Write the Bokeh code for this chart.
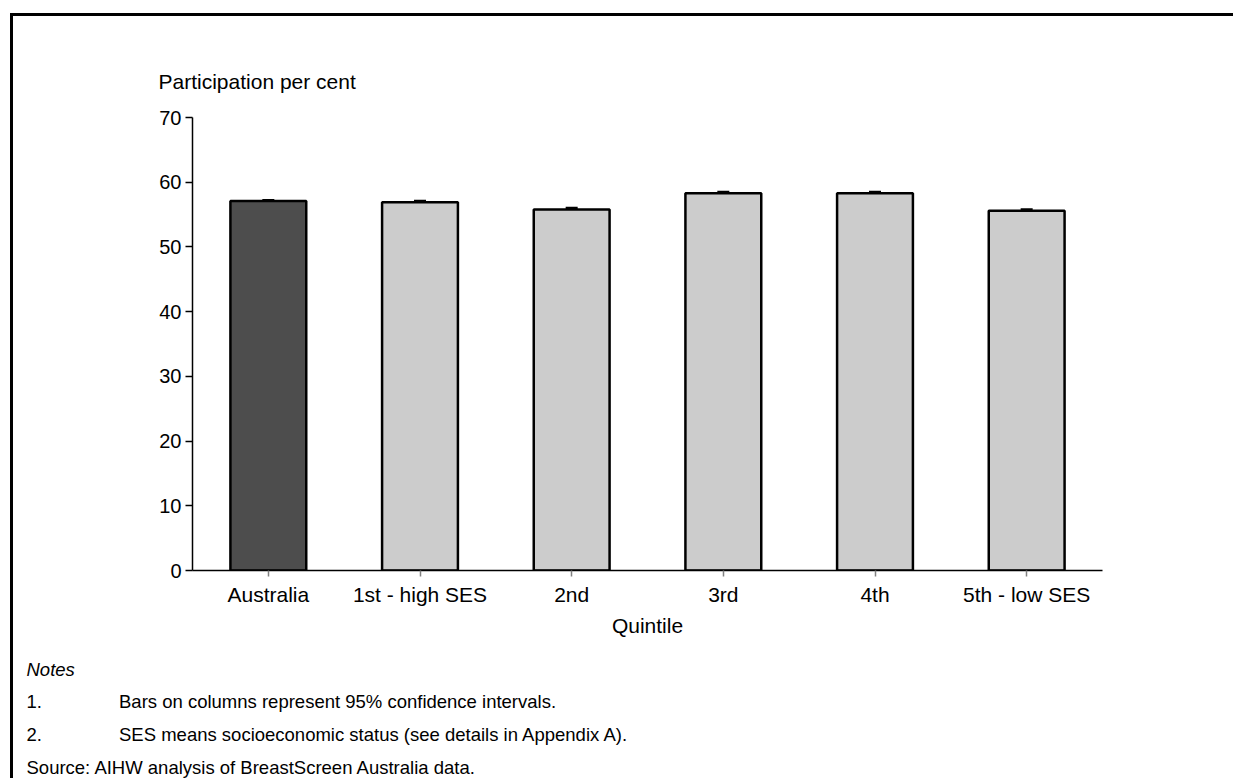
from bokeh.plotting import figure
from bokeh.models import (ColumnDataSource, Whisker, Title, TeeHead,
                          FactorRange, Range1d, FixedTicker)
from bokeh.embed import file_html
from bokeh.resources import INLINE

# ---- data ----
categories = ["Australia", "1st - high SES", "2nd", "3rd", "4th", "5th - low SES"]
participation = [57.1, 56.9, 55.8, 58.3, 58.3, 55.6]
ci_lower = [57.0, 56.7, 55.6, 58.1, 58.1, 55.4]
ci_upper = [57.2, 57.1, 56.0, 58.5, 58.5, 55.8]
bar_colors = ["#4d4d4d", "#cccccc", "#cccccc", "#cccccc", "#cccccc", "#cccccc"]
y_ticks = [0, 10, 20, 30, 40, 50, 60, 70]

y_title = "Participation per cent"
x_title = "Quintile"
notes_head = "Notes"
note_nums = ["1.", "2."]
note_texts = ["Bars on columns represent 95% confidence intervals.",
              "SES means socioeconomic status (see details in Appendix A)."]
source_line = "Source: AIHW analysis of BreastScreen Australia data."

FONT = "Liberation Sans"

# canvas origin on page (after margin + border)
OX, OY = 13, 16
W, H = 1223, 765
# frame placement (page pixels)
FL, FR, FT, FB = 192, 1102, 117, 570

src = ColumnDataSource(dict(cat=categories, val=participation, lo=ci_lower,
                            hi=ci_upper, color=bar_colors))

p = figure(x_range=FactorRange(*categories), y_range=Range1d(0, 70),
           width=W, height=H, output_backend="svg", toolbar_location=None,
           min_border_left=FL - OX, min_border_right=W - (FR - OX),
           min_border_top=FT - OY, min_border_bottom=H - (FB - OY))
p.margin = (13, 0, 0, 10)
p.styles = {"border-left": "3px solid black", "border-top": "3px solid black"}

p.vbar(x="cat", top="val", width=0.5, source=src, fill_color="color",
       line_color="black", line_width=2.5)

wh = Whisker(base="cat", upper="hi", lower="lo", source=src, line_color="black",
             line_width=2,
             upper_head=TeeHead(size=12, line_width=2.5, line_color="black"),
             lower_head=TeeHead(size=12, line_width=2.5, line_color="black"))
p.add_layout(wh)

p.xgrid.grid_line_color = None
p.ygrid.grid_line_color = None
p.outline_line_color = None
p.background_fill_color = "white"
p.border_fill_color = "white"

# y axis
p.yaxis.ticker = FixedTicker(ticks=y_ticks)
p.yaxis.minor_tick_line_color = None
p.yaxis.major_tick_in = 0
p.yaxis.major_tick_out = 7
p.yaxis.major_tick_line_width = 1.5
p.yaxis.axis_line_width = 1.5
p.yaxis.axis_line_color = "black"
p.yaxis.major_tick_line_color = "black"
p.yaxis.major_label_standoff = 4
p.yaxis.major_label_text_font = FONT
p.yaxis.major_label_text_font_size = "20px"
p.yaxis.major_label_text_color = "black"

# x axis
p.xaxis.axis_line_width = 1.5
p.xaxis.axis_line_color = "black"
p.xaxis.major_tick_in = 0
p.xaxis.major_tick_out = 6
p.xaxis.major_tick_line_color = "#808080"
p.xaxis.major_tick_line_width = 1.5
p.xaxis.major_label_standoff = 6
p.xaxis.major_label_text_font = FONT
p.xaxis.major_label_text_font_size = "21px"
p.xaxis.major_label_text_color = "black"
p.xaxis.axis_label = x_title
p.xaxis.axis_label_text_font = FONT
p.xaxis.axis_label_text_font_size = "21px"
p.xaxis.axis_label_text_font_style = "normal"
p.xaxis.axis_label_text_color = "black"
p.xaxis.axis_label_standoff = 5

# y axis title (horizontal, above the axis)
p.title = Title(text=y_title, align="left", offset=158 - FL, standoff=49,
                text_font=FONT, text_font_size="21px", text_font_style="normal",
                text_color="black")

NS = "18.5px"
GAP = "\u00a0" * 15

def note(text, standoff, style="normal", offset=26, size=NS):
    p.add_layout(Title(text=text, align="left", offset=offset - FL, standoff=standoff,
                       text_font=FONT, text_font_size=size, text_font_style=style,
                       text_color="black"), "below")

note("\u00a0", 10.1, size="1px")          # spacing row
note(notes_head, 8.8, style="italic")
note(note_nums[0] + GAP + note_texts[0], 8.8)
note(note_nums[1] + GAP + note_texts[1], 9.6)
note("\u00a0", 2.3, size="1px")           # spacing row
note(source_line, 0)

open("out.html", "w").write(file_html(p, INLINE))
